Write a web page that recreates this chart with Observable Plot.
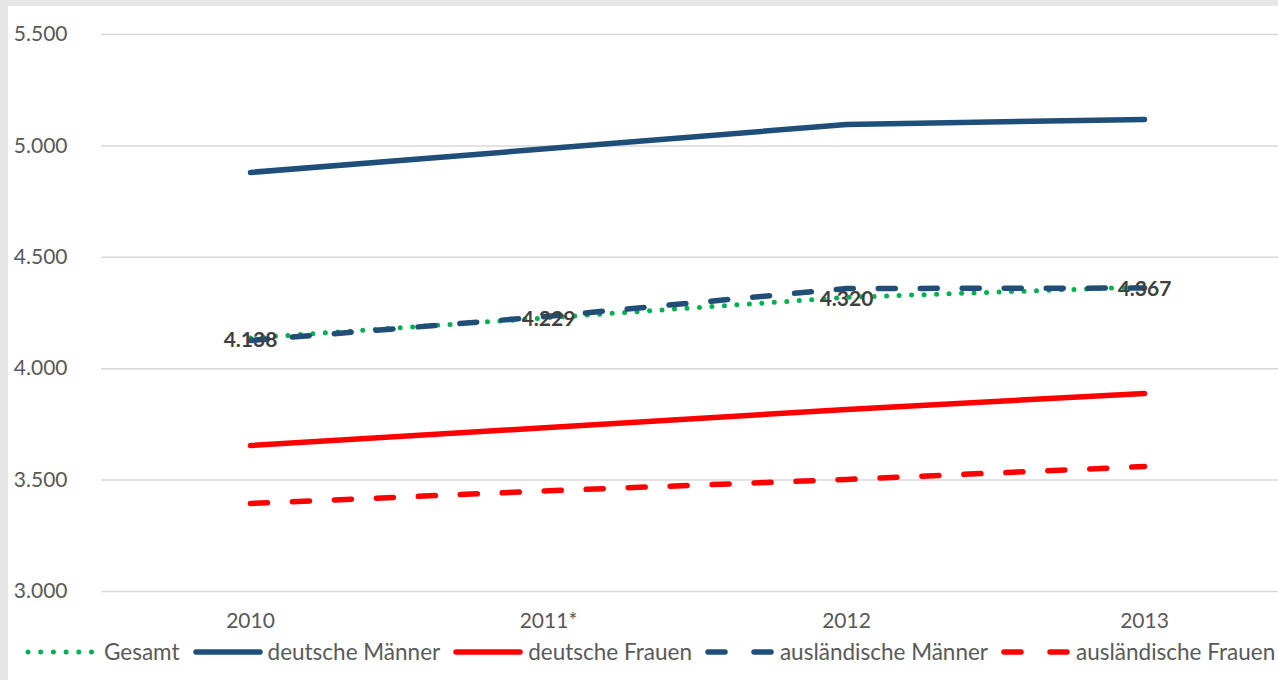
<!DOCTYPE html>
<html>
<head>
<meta charset="utf-8">
<script src="https://cdn.jsdelivr.net/npm/d3@7"></script>
<script src="https://cdn.jsdelivr.net/npm/@observablehq/plot@0.6"></script>
<style>
  html, body { margin: 0; padding: 0; background: #e6e6e6; width: 1278px; height: 680px; overflow: hidden; }
  #card { position: absolute; left: 8px; top: 6px; width: 1270px; height: 674px; background: #ffffff; }
  #chart { position: absolute; left: 0; top: 0; }
  #legend { position: absolute; left: 16px; top: 634px; height: 24px; display: flex; align-items: center;
            font-family: Lato, "Noto Sans", sans-serif; font-size: 22.5px; color: #595959; white-space: nowrap; }
  #legend .item { display: flex; align-items: center; }
  #legend svg { display: block; }
  #legend span { line-height: 24px; }
</style>
</head>
<body>
<div id="card">
  <div id="chart"></div>
  <div id="legend"></div>
</div>
<script>
// ---- data ----
const years = ["2010", "2011*", "2012", "2013"];
const gesamt = [4138, 4229, 4320, 4367];
const deutscheMaenner = [4881, 4988, 5096, 5119];
const deutscheFrauen = [3655, 3736, 3817, 3889];
const auslaendischeMaenner = [4127, 4235, 4360, 4362];
const auslaendischeFrauen = [3395, 3452, 3503, 3561];
const yTicks = [3000, 3500, 4000, 4500, 5000, 5500];

const seriesDefs = [
  {name: "Gesamt", values: gesamt, color: "#00b050", width: 5, dash: "0,12.5", dotted: true},
  {name: "deutsche Männer", values: deutscheMaenner, color: "#1f4e79", width: 5.5, dash: null},
  {name: "deutsche Frauen", values: deutscheFrauen, color: "#ff0000", width: 5.5, dash: null},
  {name: "ausländische Männer", values: auslaendischeMaenner, color: "#1f4e79", width: 5.5, dash: "17,25"},
  {name: "ausländische Frauen", values: auslaendischeFrauen, color: "#ff0000", width: 5.5, dash: "17,25"}
];

const de = d3.formatLocale({decimal: ",", thousands: ".", grouping: [3], currency: ["", " €"]});
const fmt = de.format(",.0f");

const rowsOf = (s) => years.map((y, i) => ({year: y, value: s.values[i], series: s.name}));

const lineMarks = seriesDefs.map(s => Plot.line(rowsOf(s), {
  x: "year", y: "value",
  stroke: s.color, strokeWidth: s.width,
  strokeDasharray: s.dash ?? undefined,
  strokeLinecap: "round", strokeLinejoin: "round"
}));

const chart = Plot.plot({
  width: 1270,
  height: 640,
  marginLeft: 93,
  marginRight: 0,
  marginTop: 28,
  marginBottom: 55,
  style: {fontFamily: "Lato, 'Noto Sans', sans-serif", fontSize: "21px", color: "#595959", background: "white", overflow: "visible"},
  x: {type: "point", domain: years, range: [241, 1136], padding: 0},
  y: {domain: [3000, 5500]},
  marks: [
    Plot.ruleY(yTicks, {stroke: "#d9d9d9", strokeWidth: 1.5}),
    Plot.axisY(yTicks, {tickSize: 0, tickPadding: 34, tickFormat: fmt, label: null, fill: "#595959"}),
    Plot.axisX({tickSize: 0, tickPadding: 22, label: null, fill: "#595959"}),
    ...lineMarks,
    Plot.text(rowsOf(seriesDefs[0]), {
      x: "year", y: "value", text: d => fmt(d.value),
      fontWeight: "bold", fontSize: 21, fill: "#404040", dy: 2
    })
  ]
});
document.getElementById("chart").appendChild(chart);

// ---- legend ----
const legend = d3.select("#legend");
seriesDefs.forEach((s, i) => {
  const item = legend.append("div").attr("class", "item");
  const svg = item.append("svg").attr("width", 72).attr("height", 14);
  svg.append("line")
    .attr("x1", 4).attr("x2", 68)
    .attr("y1", 7).attr("y2", 7)
    .attr("stroke", s.color).attr("stroke-width", s.width)
    .attr("stroke-linecap", "round")
    .attr("stroke-dasharray", s.dotted ? "0,12.7" : (s.dash ? "17,29" : null));
  item.append("span").text(s.name)
    .style("margin-left", i === 0 ? "8px" : "4px")
    .style("margin-right", "12px");
});
</script>
</body>
</html>
